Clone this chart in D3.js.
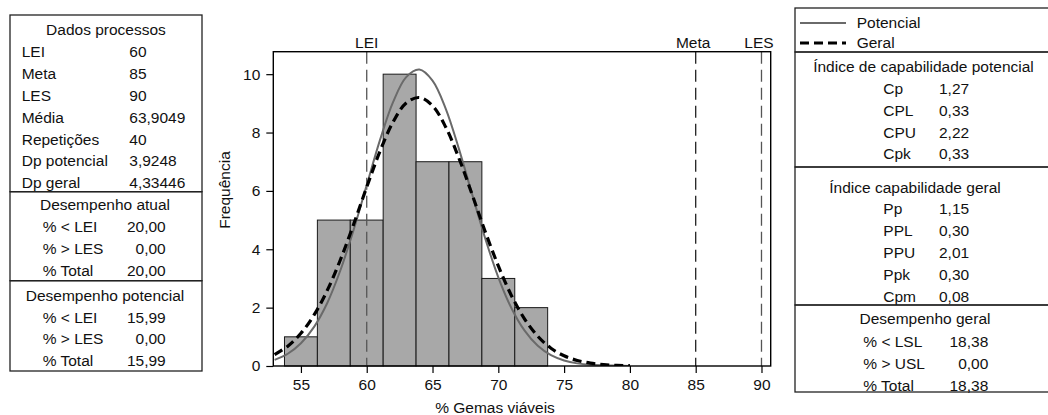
<!DOCTYPE html>
<html>
<head>
<meta charset="utf-8">
<script src="https://cdn.jsdelivr.net/npm/d3@7"></script>
<style>
  body { margin: 0; background: #fff; }
  svg { display: block; font-family: "Liberation Sans", Arial, sans-serif; }
  text { fill: #111; font-size: 15.5px; }
</style>
</head>
<body>
<svg width="1048" height="415"></svg>
<script>
// histogram
const binEdges = [53.75, 56.25, 58.75, 61.25, 63.75, 66.25, 68.75, 71.25, 73.75];
const binCounts = [1, 5, 5, 10, 7, 7, 3, 2];

// fitted curves
const curveX = [53, 54, 55, 56, 57, 58, 59, 60, 61, 62, 63, 64, 65, 66, 67, 68, 69, 70,
  71, 72, 73, 74, 75, 76, 77, 78, 79, 80];
const potencialY = [0.21, 0.42, 0.78, 1.34, 2.16, 3.28, 4.66, 6.20, 7.73, 9.04, 9.90, 10.16,
  9.78, 8.82, 7.45, 5.90, 4.38, 3.04, 1.98, 1.21, 0.69, 0.37, 0.19, 0.09, 0.04, 0.02, 0.01, 0.00];
const geralY = [0.39, 0.68, 1.12, 1.75, 2.59, 3.64, 4.85, 6.13, 7.35, 8.36, 9.01, 9.20,
  8.92, 8.19, 7.13, 5.89, 4.61, 3.43, 2.41, 1.61, 1.02, 0.61, 0.35, 0.19, 0.10, 0.05, 0.02, 0.01];

// spec limits
const specNames = ['LEI', 'Meta', 'LES'];
const specValues = [60, 85, 90];

// axes
const xTicks = [55, 60, 65, 70, 75, 80, 85, 90];
const yTicks = [0, 2, 4, 6, 8, 10];

// left tables
const dadosLabels = ['LEI', 'Meta', 'LES', 'Média', 'Repetições', 'Dp potencial', 'Dp geral'];
const dadosValues = ['60', '85', '90', '63,9049', '40', '3,9248', '4,33446'];
const atualLabels = ['% < LEI', '% > LES', '% Total'];
const atualValues = ['20,00', '0,00', '20,00'];
const potDesLabels = ['% < LEI', '% > LES', '% Total'];
const potDesValues = ['15,99', '0,00', '15,99'];

// right tables
const legendNames = ['Potencial', 'Geral'];
const capPotLabels = ['Cp', 'CPL', 'CPU', 'Cpk'];
const capPotValues = ['1,27', '0,33', '2,22', '0,33'];
const capGerLabels = ['Pp', 'PPL', 'PPU', 'Ppk', 'Cpm'];
const capGerValues = ['1,15', '0,30', '2,01', '0,30', '0,08'];
const desGerLabels = ['% < LSL', '% > USL', '% Total'];
const desGerValues = ['18,38', '0,00', '18,38'];

const svg = d3.select('svg');

// ---- plot ----
const plot = { left: 273.3, right: 770.7, top: 51.7, bottom: 366 };
const x = d3.scaleLinear().domain([52.9, 90.7]).range([plot.left, plot.right]);
const y = d3.scaleLinear().domain([0, 10.77]).range([plot.bottom, plot.top]);

svg.append('clipPath').attr('id', 'clip')
  .append('rect')
    .attr('x', plot.left).attr('y', plot.top)
    .attr('width', plot.right - plot.left).attr('height', plot.bottom - plot.top);

const bins = binCounts.map((c, i) => ({ x0: binEdges[i], x1: binEdges[i + 1], n: c }));
svg.append('g').selectAll('rect')
  .data(bins)
  .enter().append('rect')
    .attr('x', d => x(d.x0))
    .attr('y', d => y(d.n))
    .attr('width', d => x(d.x1) - x(d.x0))
    .attr('height', d => y(0) - y(d.n))
    .attr('fill', '#a8a8a8')
    .attr('stroke', '#1a1a1a')
    .attr('stroke-width', 1);

// spec lines
const specColors = ['#555', '#222', '#555'];
const specs = specNames.map((n, i) => ({ name: n, v: specValues[i], c: specColors[i] }));
svg.append('g').selectAll('line')
  .data(specs)
  .enter().append('line')
    .attr('x1', d => x(d.v)).attr('x2', d => x(d.v))
    .attr('y1', plot.top).attr('y2', plot.bottom)
    .attr('stroke', d => d.c)
    .attr('stroke-width', 1.3)
    .attr('stroke-dasharray', '12,6');
svg.append('g').selectAll('text')
  .data(specs)
  .enter().append('text')
    .attr('x', d => x(d.v) - (d.name === 'LEI' ? 0 : 2.5))
    .attr('y', 48)
    .attr('text-anchor', 'middle')
    .text(d => d.name);

// curves
const line = d3.line()
  .x(d => x(d[0]))
  .y(d => y(d[1]))
  .curve(d3.curveCatmullRom);
const curves = svg.append('g').attr('clip-path', 'url(#clip)');
curves.append('path')
  .attr('d', line(curveX.map((v, i) => [v, potencialY[i]])))
  .attr('fill', 'none')
  .attr('stroke', '#6a6a6a')
  .attr('stroke-width', 2);
curves.append('path')
  .attr('d', line(curveX.map((v, i) => [v, geralY[i]])))
  .attr('fill', 'none')
  .attr('stroke', '#000')
  .attr('stroke-width', 3.2)
  .attr('stroke-dasharray', '9,5');

// frame + axes
svg.append('rect')
  .attr('x', plot.left).attr('y', plot.top)
  .attr('width', plot.right - plot.left).attr('height', plot.bottom - plot.top)
  .attr('fill', 'none').attr('stroke', '#000').attr('stroke-width', 1.4);

const xAxis = svg.append('g')
  .attr('transform', `translate(0,${plot.bottom})`)
  .call(d3.axisBottom(x).tickValues(xTicks).tickSize(7).tickPadding(6).tickSizeOuter(0));
const yAxis = svg.append('g')
  .attr('transform', `translate(${plot.left},0)`)
  .call(d3.axisLeft(y).tickValues(yTicks).tickSize(7).tickPadding(6).tickSizeOuter(0));
[xAxis, yAxis].forEach(a => {
  a.attr('font-family', null).attr('font-size', null);
  a.select('.domain').remove();
  a.selectAll('line').attr('stroke', '#000').attr('stroke-width', 1.2);
  a.selectAll('text').attr('fill', '#111');
});

svg.append('text')
  .attr('x', 495).attr('y', 413)
  .attr('text-anchor', 'middle')
  .text('% Gemas viáveis');
svg.append('text')
  .attr('transform', 'translate(230,190) rotate(-90)')
  .attr('text-anchor', 'middle')
  .text('Frequência');

// ---- tables ----
function box(x0, x1, y0, y1) {
  svg.append('rect')
    .attr('x', x0).attr('y', y0)
    .attr('width', x1 - x0).attr('height', y1 - y0)
    .attr('fill', 'none').attr('stroke', '#222').attr('stroke-width', 1.3);
}
function header(txt, cx, cy) {
  svg.append('text')
    .attr('x', cx).attr('y', cy)
    .attr('dy', '0.35em')
    .attr('text-anchor', 'middle')
    .text(txt);
}
function rows(labels, values, lx, vx, vAnchor, y0, step) {
  const g = svg.append('g');
  g.selectAll('text.l').data(labels).enter().append('text')
    .attr('x', lx).attr('y', (d, i) => y0 + i * step)
    .attr('dy', '0.35em')
    .text(d => d);
  g.selectAll('text.v').data(values).enter().append('text')
    .attr('x', vx).attr('y', (d, i) => y0 + i * step)
    .attr('dy', '0.35em')
    .attr('text-anchor', vAnchor)
    .text(d => d);
}

// left side
box(10, 202, 15, 191.7);
header('Dados processos', 106, 30);
rows(dadosLabels, dadosValues, 21.7, 129.3, 'start', 52, 21.8);

box(10, 202, 191.7, 280.7);
header('Desempenho atual', 105, 205);
rows(atualLabels, atualValues, 42.7, 165.7, 'end', 226.5, 21.8);

box(10, 202, 280.7, 371);
header('Desempenho potencial', 105, 296);
rows(potDesLabels, potDesValues, 42.7, 165.7, 'end', 317.5, 21.3);

// right side
box(795, 1052, 8, 52);
const legendStyles = [
  { stroke: '#6a6a6a', w: 2, dash: null },
  { stroke: '#000', w: 3.2, dash: '9,5' }
];
legendNames.forEach((n, i) => {
  const ly = 23 + i * 20;
  svg.append('line')
    .attr('x1', 800).attr('x2', 846).attr('y1', ly).attr('y2', ly)
    .attr('stroke', legendStyles[i].stroke)
    .attr('stroke-width', legendStyles[i].w)
    .attr('stroke-dasharray', legendStyles[i].dash);
  svg.append('text')
    .attr('x', 856.7).attr('y', ly).attr('dy', '0.35em')
    .text(n);
});

box(795, 1052, 52, 167);
header('Índice de capabilidade potencial', 923.5, 67);
rows(capPotLabels, capPotValues, 883.3, 939, 'start', 88.5, 21.8);

box(795, 1052, 167, 305);
header('Índice capabilidade geral', 915, 188);
rows(capGerLabels, capGerValues, 883.3, 939, 'start', 209, 21.8);

box(795, 1052, 305, 392);
header('Desempenho geral', 925, 319);
rows(desGerLabels, desGerValues, 863.3, 988.3, 'end', 341.5, 21.8);
</script>
</body>
</html>
